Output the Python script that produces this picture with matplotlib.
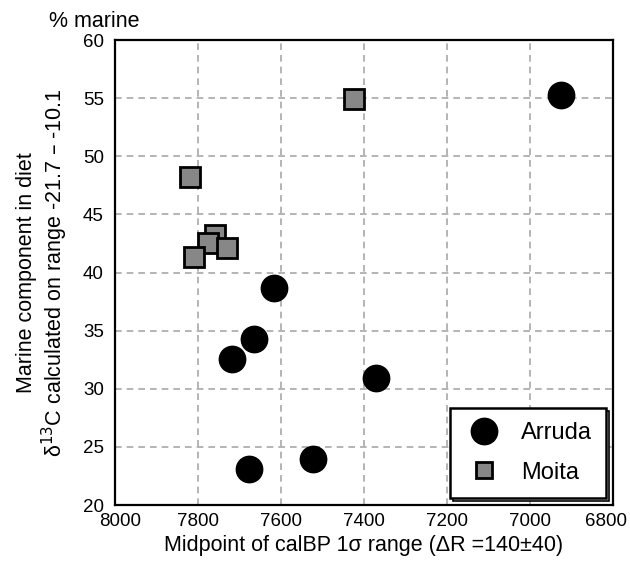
import matplotlib
matplotlib.use('Agg')
import matplotlib.pyplot as plt
import matplotlib.transforms as mtransforms
from matplotlib.patches import Rectangle

plt.rcParams['font.family'] = ['Liberation Sans', 'DejaVu Sans']

# Arruda (circles)
arruda_x = [6925, 7616, 7664, 7718, 7370, 7522, 7676]
arruda_y = [55.3, 38.7, 34.3, 32.6, 30.9, 24.0, 23.1]

# Moita (squares)
moita_x = [7423, 7819, 7760, 7775, 7729, 7809]
moita_y = [54.9, 48.2, 43.2, 42.5, 42.1, 41.3]

xticks = [8000, 7800, 7600, 7400, 7200, 7000, 6800]
yticks = [20, 25, 30, 35, 40, 45, 50, 55, 60]

fig = plt.figure(figsize=(6.3, 5.62), dpi=100)
ax = fig.add_axes([0.1825, 0.1014, 0.7905, 0.8274])

ax.plot(arruda_x, arruda_y, 'o', color='black', markersize=19, label='Arruda', zorder=3)
# draw moita in order so later squares sit on top
for i, (x, y) in enumerate(zip(moita_x, moita_y)):
    ax.plot(x, y, 's', markerfacecolor='#878787', markeredgecolor='black',
            markeredgewidth=2, markersize=14, zorder=4,
            label='Moita' if i == 0 else None)

ax.set_xlim(8000, 6800)
ax.set_ylim(20, 60)
ax.set_xticks(xticks)
ax.set_yticks(yticks)
ax.tick_params(length=0, labelsize=13.5)
ax.tick_params(axis='y', pad=8)
ax.tick_params(axis='x', pad=6)
ax.grid(True, color='#a8a8a8', linestyle=(0, (4, 3)), linewidth=1.2)
ax.set_axisbelow(True)
for s in ax.spines.values():
    s.set_linewidth(1.6)

# end labels sit a bit inward in the original
labels = ax.get_xticklabels()
labels[0].set_transform(labels[0].get_transform() +
                        mtransforms.ScaledTranslation(5 / 100, 0, fig.dpi_scale_trans))
labels[-1].set_transform(labels[-1].get_transform() +
                         mtransforms.ScaledTranslation(-7 / 100, 0, fig.dpi_scale_trans))

ax.set_xlabel('Midpoint of calBP 1σ range (ΔR =140±40)', fontsize=15.5, labelpad=3)
ax.set_ylabel('Marine component in diet\nδ$^{13}$C calculated on range -21.7 – -10.1',
              fontsize=15.5, labelpad=9, linespacing=1.15)
fig.text(0.078, 0.952, '% marine', fontsize=15.5)

leg = ax.legend(loc='lower right', fontsize=17, frameon=True, fancybox=False,
                framealpha=1, edgecolor='black', borderaxespad=0.3,
                handletextpad=0.7, borderpad=0.6, labelspacing=0.75,
                handlelength=1.7)
leg.get_frame().set_linewidth(1.8)
leg.legend_handles[1].set_markersize(12)

# thin offset outline behind the legend box, like the original
fig.canvas.draw()
bb = leg.get_frame().get_window_extent()
bb = bb.transformed(ax.transAxes.inverted())
dx, dy = 3 / ax.bbox.width, 3 / ax.bbox.height
shadow = Rectangle((bb.x0 + dx, bb.y0 - dy), bb.width, bb.height,
                   transform=ax.transAxes, clip_on=False,
                   facecolor='white', edgecolor='black', linewidth=1.2, zorder=4.9)
ax.add_artist(shadow)

fig.savefig('out.png', dpi=100)
